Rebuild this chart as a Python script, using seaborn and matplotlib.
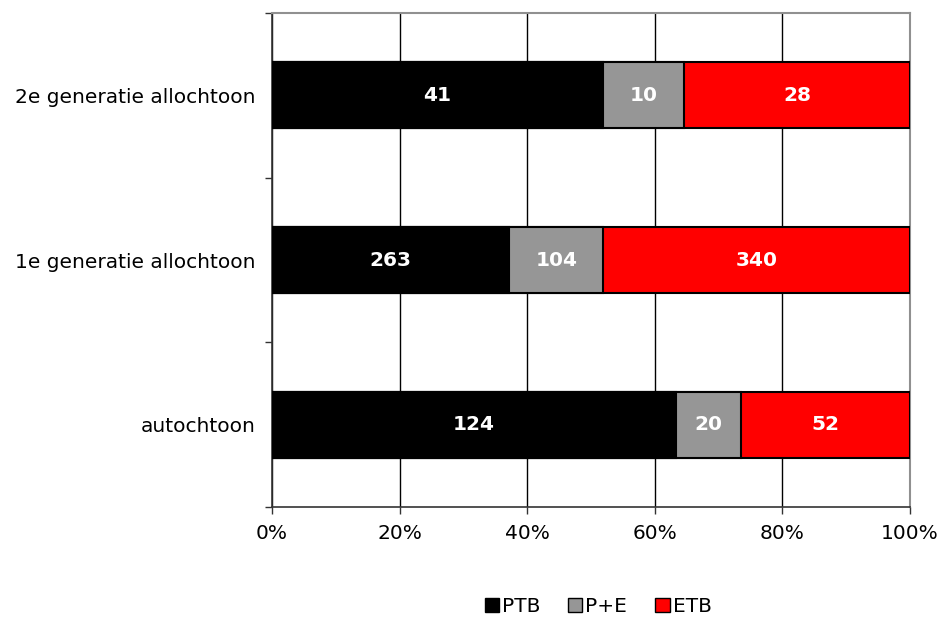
import numpy as np
import pandas as pd
import matplotlib
matplotlib.use("Agg")
import matplotlib.pyplot as plt
import seaborn as sns
from matplotlib.patches import Patch

# data
groups = ["2e generatie allochtoon", "1e generatie allochtoon", "autochtoon"]
ptb = [41, 263, 124]
pe = [10, 104, 20]
etb = [28, 340, 52]
series = ["PTB", "P+E", "ETB"]
colors = ["#000000", "#969696", "#ff0000"]

sns.set_style("white")
plt.rcParams["font.family"] = ["DejaVu Sans"]
plt.rcParams["text.color"] = "black"
plt.rcParams["xtick.color"] = "black"
plt.rcParams["ytick.color"] = "black"

df = pd.DataFrame({"groep": groups, "PTB": ptb, "P+E": pe, "ETB": etb})
totals = df[series].sum(axis=1)
share = df[series].div(totals, axis=0)
cum = share.cumsum(axis=1)

fig = plt.figure(figsize=(9.42, 6.19), dpi=100)
ax = fig.add_axes([272 / 942, 1 - 507 / 619, (910 - 272) / 942, (507 - 13) / 619])

# layered cumulative bars: widest first
for s, c in zip(reversed(series), reversed(colors)):
    sns.barplot(x=cum[s], y=df["groep"], order=groups, color=c, width=0.4,
                saturation=1, edgecolor="black", linewidth=1.5, ax=ax, zorder=3)

# value labels in the middle of each segment
for i in range(len(groups)):
    left = 0
    for s in series:
        w = share.loc[i, s]
        ax.text(left + w / 2, i, str(df.loc[i, s]), ha="center", va="center",
                color="white", fontsize=14.5, fontweight="bold", zorder=5)
        left += w

ax.set_xlim(0, 1)
ax.set_ylim(2.5, -0.5)
ax.set_xticks(np.arange(0, 1.01, 0.2))
ax.set_xticklabels([f"{int(v * 100)}%" for v in np.arange(0, 1.01, 0.2)])
ax.xaxis.grid(True, color="black", linewidth=1)
ax.set_axisbelow(True)
ax.set_xlabel("")
ax.set_ylabel("")

ax.set_yticks([-0.5, 0.5, 1.5, 2.5], minor=True)
ax.tick_params(axis="y", which="major", length=0, labelsize=14.5, pad=12)
ax.tick_params(axis="y", which="minor", length=5, direction="out", width=1, color="#333333", left=True)
ax.tick_params(axis="x", length=5, direction="out", width=1, color="#333333", labelsize=14.5, pad=7, bottom=True)

for side in ["top", "right"]:
    ax.spines[side].set_color("#909090")
    ax.spines[side].set_linewidth(1.5)
for side in ["left", "bottom"]:
    ax.spines[side].set_color("#333333")
    ax.spines[side].set_linewidth(1.2)

handles = [Patch(facecolor=c, edgecolor="black", label=s) for s, c in zip(series, colors)]
fig.legend(handles=handles, loc="lower center", bbox_to_anchor=(598 / 942, -0.024), ncol=3,
           frameon=False, fontsize=14.5, handlelength=0.7, handleheight=0.7,
           handletextpad=0.15, columnspacing=1.4)

fig.savefig("out.png", dpi=100)
